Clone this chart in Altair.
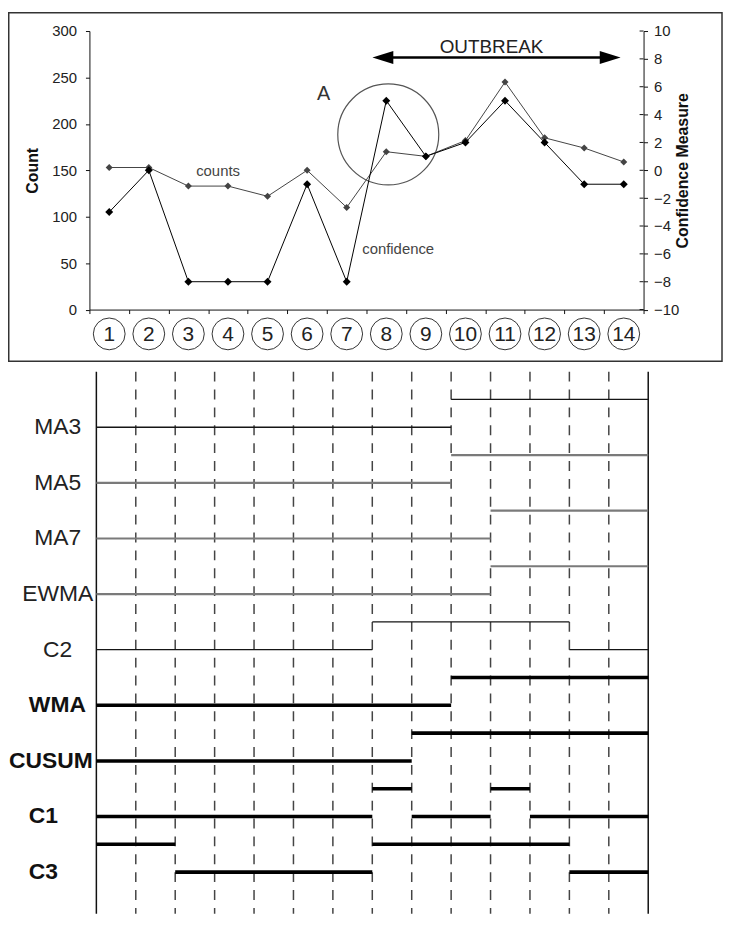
import altair as alt
import pandas as pd

FONT = "Liberation Sans"

# ---------------- data ----------------
days = list(range(1, 15))
counts = [153, 153, 133, 133, 122, 150, 110, 170, 165, 182, 245, 185, 174, 159]
confidence = [-3, 0, -8, -8, -8, -1, -8, 5, 1, 2, 5, 2, -1, -1]
conf_ticks = list(range(-10, 11, 2))

methods = ["MA3", "MA5", "MA7", "EWMA", "C2", "WMA", "CUSUM", "C1", "C3"]
alarms = {
    "MA3":   [0, 0, 0, 0, 0, 0, 0, 0, 0, 1, 1, 1, 1, 1],
    "MA5":   [0, 0, 0, 0, 0, 0, 0, 0, 0, 1, 1, 1, 1, 1],
    "MA7":   [0, 0, 0, 0, 0, 0, 0, 0, 0, 0, 1, 1, 1, 1],
    "EWMA":  [0, 0, 0, 0, 0, 0, 0, 0, 0, 0, 1, 1, 1, 1],
    "C2":    [0, 0, 0, 0, 0, 0, 0, 1, 1, 1, 1, 1, 0, 0],
    "WMA":   [0, 0, 0, 0, 0, 0, 0, 0, 0, 1, 1, 1, 1, 1],
    "CUSUM": [0, 0, 0, 0, 0, 0, 0, 0, 1, 1, 1, 1, 1, 1],
    "C1":    [0, 0, 0, 0, 0, 0, 0, 1, 0, 0, 1, 0, 0, 0],
    "C3":    [1, 1, 0, 0, 0, 0, 0, 1, 1, 1, 1, 1, 0, 0],
}
bold_methods = ["WMA", "CUSUM", "C1", "C3"]
thin_black = ["MA3", "C2"]
gray_methods = ["MA5", "MA7", "EWMA"]

# annotation anchors (in data units of the top chart)
outbreak_from, outbreak_to, outbreak_level = 7.65, 13.92, 271.4
circle_day, circle_count = 8.05, 188.6

# ---------------- top chart ----------------
TW, TH = 558, 280.5
series = pd.DataFrame({"day": days, "count": counts, "conf": confidence})

X = alt.X("day:Q",
          scale=alt.Scale(domain=[0.5, 14.5], nice=False, zero=False),
          axis=alt.Axis(values=[0.5 + i for i in range(15)], labels=False,
                        tickSize=4, grid=False, title=None,
                        domainColor="#111", tickColor="#111"))
YC = alt.Y("count:Q",
           scale=alt.Scale(domain=[0, 300], nice=False, zero=False),
           axis=alt.Axis(values=[0, 50, 100, 150, 200, 250, 300], title="Count",
                         grid=False, tickSize=4, labelPadding=9,
                         labelFont=FONT, labelFontSize=15, labelColor="#222",
                         titleFont=FONT, titleFontSize=16, titleFontWeight="bold",
                         titleColor="#111", titlePadding=11,
                         domainColor="#111", tickColor="#111"))
YR = alt.Y("conf:Q",
           scale=alt.Scale(domain=[-10, 10], nice=False, zero=False),
           axis=alt.Axis(orient="right", values=conf_ticks,
                         title="Confidence Measure", titleAngle=270,
                         grid=False, tickSize=4, labelPadding=6,
                         labelFont=FONT, labelFontSize=15, labelColor="#222",
                         titleFont=FONT, titleFontSize=16, titleFontWeight="bold",
                         titleColor="#111", titlePadding=12,
                         domainColor="#111", tickColor="#111"))

base = alt.Chart(series)
count_line = base.mark_line(color="#444", strokeWidth=1).encode(x=X, y=YC)
count_pts = base.mark_point(shape="diamond", filled=True, color="#444", size=50, opacity=1).encode(x=X, y=YC)
conf_line = base.mark_line(color="#000", strokeWidth=1).encode(x=X, y=YR)
conf_pts = base.mark_point(shape="diamond", filled=True, color="#000", size=64, opacity=1).encode(x=X, y=YR)
# inner half of the right-axis ticks (they cross the axis in the original)
inner_ticks = alt.Chart(pd.DataFrame({"conf": conf_ticks})).mark_rule(color="#111", strokeWidth=1).encode(
    x=alt.value(TW - 4), x2=alt.value(TW), y=YR)

circ_df = pd.DataFrame({"day": days, "label": [str(d) for d in days]})
num_circles = alt.Chart(circ_df).mark_point(shape="circle", filled=False, color="#333",
                                            strokeWidth=1, size=1024, opacity=1).encode(
    x=X, y=alt.value(305))
num_text = alt.Chart(circ_df).mark_text(font=FONT, fontSize=21, color="#222",
                                        baseline="middle", align="center").encode(
    x=X, y=alt.value(306), text="label:N")

texts = pd.DataFrame({
    "day": [3.75, 8.3, 6.42, 10.66],
    "count": [143.9, 59.4, 225.9, 276.8],
    "label": ["counts", "confidence", "A", "OUTBREAK"],
})
ann_small = alt.Chart(texts.iloc[:2]).mark_text(font=FONT, fontSize=15, color="#444",
                                                baseline="alphabetic").encode(
    x=X, y=YC, text="label:N")
ann_a = alt.Chart(texts.iloc[2:3]).mark_text(font=FONT, fontSize=20, color="#333",
                                             baseline="alphabetic").encode(
    x=X, y=YC, text="label:N")
ann_ob = alt.Chart(texts.iloc[3:4]).mark_text(font=FONT, fontSize=19, color="#222",
                                              baseline="alphabetic").encode(
    x=X, y=YC, text="label:N")

arrow_df = pd.DataFrame({"day": [outbreak_from + 0.25], "day2": [outbreak_to - 0.25],
                         "count": [outbreak_level]})
arrow_line = alt.Chart(arrow_df).mark_rule(color="#000", strokeWidth=2.5).encode(
    x=X, x2="day2:Q", y=YC)
head_l = alt.Chart(pd.DataFrame({"day": [outbreak_from], "count": [outbreak_level]})).mark_point(
    shape="M 0 0 L 2 -0.62 L 2 0.62 Z", filled=True, color="#000", size=441, opacity=1).encode(x=X, y=YC)
head_r = alt.Chart(pd.DataFrame({"day": [outbreak_to], "count": [outbreak_level]})).mark_point(
    shape="M 0 0 L -2 -0.62 L -2 0.62 Z", filled=True, color="#000", size=441, opacity=1).encode(x=X, y=YC)

ring = alt.Chart(pd.DataFrame({"day": [circle_day], "count": [circle_count]})).mark_point(
    shape="circle", filled=False, color="#555", strokeWidth=1.2, size=10340, opacity=1).encode(x=X, y=YC)

box = alt.Chart(pd.DataFrame({"k": [0]})).mark_rect(fillOpacity=0, stroke="#333", strokeWidth=1.5).encode(
    x=alt.value(-81.25), x2=alt.value(637), y=alt.value(-18.5), y2=alt.value(332.5))

left = alt.layer(box, count_line, count_pts, ring, arrow_line, head_l, head_r,
                 ann_small, ann_a, ann_ob, num_circles, num_text)
right = alt.layer(inner_ticks, conf_line, conf_pts)
top = alt.layer(left, right).resolve_scale(y="independent").properties(width=TW, height=TH)

# ---------------- bottom chart ----------------
rows = []
for i, m in enumerate(methods):
    flags = alarms[m]
    start = 0
    for d in range(1, 15):
        if d == 14 or flags[d] != flags[start]:
            rows.append({"method": m, "start": start, "end": d,
                         "level": 2 * (len(methods) - 1 - i) + flags[start]})
            start = d
seg_df = pd.DataFrame(rows)

BH = 546
BX = alt.X("start:Q", scale=alt.Scale(domain=[-0.176, 14], nice=False, zero=False), axis=None)
BY = alt.Y("level:Q", scale=alt.Scale(domain=[18 - BH / 28.0, 18], nice=False, zero=False), axis=None)

bounds_df = pd.DataFrame({"start": list(range(15))})
dashed = alt.Chart(bounds_df[(bounds_df.start > 0) & (bounds_df.start < 14)]).mark_rule(
    color="#444", strokeWidth=1.5, strokeDash=[10, 8]).encode(
    x=BX, y=alt.value(0), y2=alt.value(BH))
solid = alt.Chart(bounds_df[(bounds_df.start == 0) | (bounds_df.start == 14)]).mark_rule(
    color="#111", strokeWidth=1.5).encode(x=BX, y=alt.value(0), y2=alt.value(BH))

seg_thin = alt.Chart(seg_df[seg_df.method.isin(thin_black)]).mark_rule(
    color="#151515", strokeWidth=1.3).encode(x=BX, x2="end:Q", y=BY)
seg_gray = alt.Chart(seg_df[seg_df.method.isin(gray_methods)]).mark_rule(
    color="#7a7a7a", strokeWidth=2.2).encode(x=BX, x2="end:Q", y=BY)
seg_bold = alt.Chart(seg_df[seg_df.method.isin(bold_methods)]).mark_rule(
    color="#000", strokeWidth=3.6).encode(x=BX, x2="end:Q", y=BY)

lab_df = pd.DataFrame({"method": methods,
                       "level": [2 * (len(methods) - 1 - i) for i in range(len(methods))]})
normal_lab = alt.Chart(lab_df[~lab_df.method.isin(bold_methods)]).mark_text(
    font=FONT, fontSize=23, color="#222", align="center", baseline="middle").encode(
    x=alt.value(-32), y=BY, text="method:N")
bold_lab = alt.Chart(lab_df[lab_df.method.isin(["WMA", "C1", "C3"])]).mark_text(
    font=FONT, fontSize=23, fontWeight="bold", color="#111", align="left", baseline="middle").encode(
    x=alt.value(-61), y=BY, text="method:N")
cusum_lab = alt.Chart(lab_df[lab_df.method == "CUSUM"]).mark_text(
    font=FONT, fontSize=23, fontWeight="bold", color="#111", align="left", baseline="middle").encode(
    x=alt.value(-81), y=BY, text="method:N")

bottom = alt.layer(dashed, solid, seg_thin, seg_gray, seg_bold,
                   normal_lab, bold_lab, cusum_lab).properties(width=562.7, height=BH)

chart = alt.vconcat(top, bottom, spacing=8).properties(padding=0).configure_view(strokeWidth=0)

chart.save("out.html", embed_options={"renderer": "svg", "actions": False})
